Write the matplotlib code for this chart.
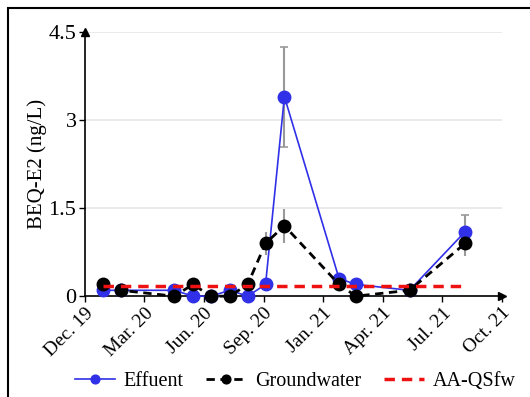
import matplotlib.pyplot as plt
from matplotlib.patches import Rectangle

plt.rcParams['font.family'] = ['Liberation Serif', 'DejaVu Serif']

# Sampling positions (axis units, 3 units per tick label)
sample_x = [0.9, 1.8, 4.5, 5.45, 6.35, 7.3, 8.2, 9.1, 10.05, 12.8, 13.65, 16.35, 19.15]

# BEQ-E2 values (ng/L)
effluent = [0.1, 0.1, 0.1, 0.0, 0.0, 0.1, 0.0, 0.2, 3.4, 0.3, 0.2, 0.1, 1.1]
effluent_err = [0, 0, 0, 0, 0, 0, 0, 0, 0.85, 0, 0, 0, 0.28]
groundwater = [0.2, 0.1, 0.0, 0.2, 0.0, 0.0, 0.2, 0.9, 1.2, 0.2, 0.0, 0.1, 0.9]
groundwater_err = [0, 0, 0, 0, 0, 0, 0, 0.2, 0.29, 0, 0, 0, 0.22]
aa_qsfw = 0.18

tick_pos = [0, 3, 6, 9, 12, 15, 18, 21]
tick_labels = ["Dec. 19", "Mar. 20", "Jun. 20", "Sep. 20", "Jan. 21", "Apr. 21", "Jul. 21", "Oct. 21"]
y_ticks = [0, 1.5, 3, 4.5]
y_labels = ["0", "1.5", "3", "4.5"]

fig = plt.figure(figsize=(5.3, 3.97), dpi=100)
ax = fig.add_axes([0.160, 0.254, 0.787, 0.665])

# Grid
for yv in y_ticks[1:]:
    ax.axhline(yv, color='#e6e6e6', lw=1.2, zorder=0)

# Error bars
ax.errorbar(sample_x, effluent, yerr=effluent_err, fmt='none', ecolor='#999999',
            elinewidth=1.5, capsize=3, capthick=1.2, zorder=2, clip_on=False)
ax.errorbar(sample_x, groundwater, yerr=groundwater_err, fmt='none', ecolor='#999999',
            elinewidth=1.5, capsize=0, zorder=2, clip_on=False)

# Series
ax.plot(sample_x, effluent, color='#3030e8', lw=1.2, marker='o', ms=9,
        label='Effuent', zorder=3, clip_on=False)
ax.plot(sample_x, groundwater, color='black', lw=2, ls=(0, (3, 2)), marker='o', ms=9,
        label='Groundwater', zorder=4, clip_on=False)
ax.plot([sample_x[0], sample_x[-1]], [aa_qsfw, aa_qsfw], color='#ee1111', lw=2.5,
        ls=(0, (3, 2)), label='AA-QSfw', zorder=5)

ax.set_xlim(0, 21)
ax.set_ylim(0, 4.5)
ax.set_xticks(tick_pos)
ax.set_xticklabels(tick_labels, rotation=45, ha='right', va='top',
                   rotation_mode='anchor', fontsize=14)
ax.set_yticks(y_ticks)
ax.set_yticklabels(y_labels, fontsize=16)
ax.tick_params(axis='both', direction='out', length=4, width=1, pad=2)
ax.set_ylabel('BEQ-E2 (ng/L)', fontsize=15, labelpad=1)

for s in ['top', 'right']:
    ax.spines[s].set_visible(False)
for s in ['left', 'bottom']:
    ax.spines[s].set_linewidth(1.2)

# Axis arrows
ax.plot(1, 0, '>k', ms=6, transform=ax.transAxes, clip_on=False)
ax.plot(0, 1, '^k', ms=6, transform=ax.transAxes, clip_on=False)

ax.legend(loc='center', bbox_to_anchor=(0.557, 0.04), bbox_transform=fig.transFigure,
          ncol=3, frameon=False, fontsize=14.5, handlelength=2.0, columnspacing=1.1,
          handletextpad=0.45, markerscale=0.7, borderpad=0)

# Figure frame
fig.patches.append(Rectangle((8 / 530, -0.05), 1.1, 1 - 8 / 397 + 0.05,
                             transform=fig.transFigure, fill=False,
                             edgecolor='black', lw=1.5))

fig.savefig('out.png', dpi=100)
